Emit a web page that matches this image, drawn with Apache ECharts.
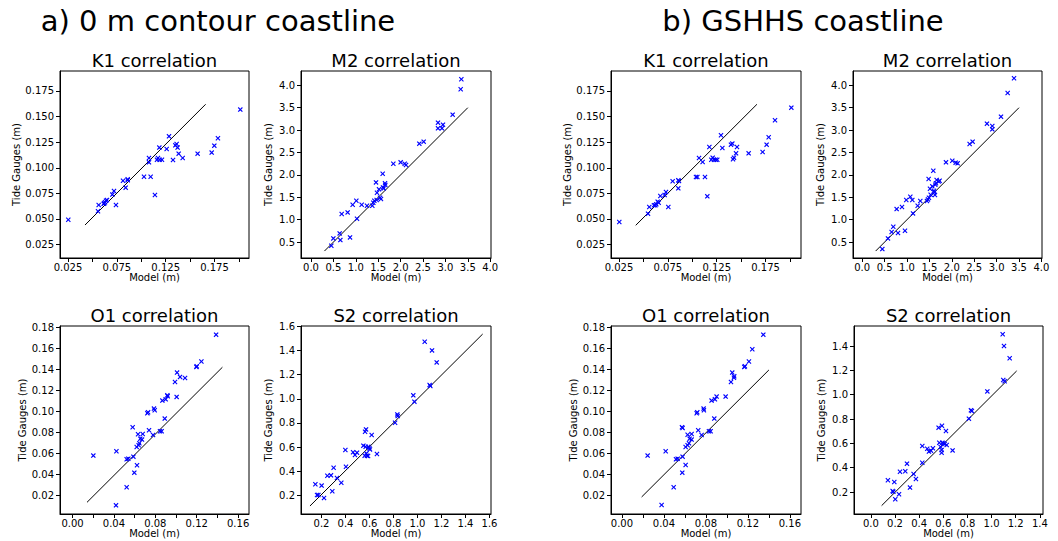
<!DOCTYPE html>
<html><head><meta charset="utf-8">
<script src="https://cdn.jsdelivr.net/npm/echarts@6/dist/echarts.min.js"></script>
<style>html,body{margin:0;padding:0;background:#fff}#c{width:1058px;height:541px}</style>
</head><body><div id="c"></div>
<script>
// ---------- DATA ----------
const k1aModel = [0.0253,0.0557,0.0564,0.0615,0.0629,0.0639,0.0649,0.0622,0.0704,0.0721,0.0741,0.0813,0.084,0.0861,0.0861,0.1028,0.1079,0.1079,0.1096,0.114,0.1161,0.1171,0.1185,0.1188,0.1212,0.126,0.1284,0.1325,0.1349,0.1362,0.1372,0.1383,0.1424,0.1577,0.1721,0.1748,0.1785,0.2014];
const k1aGauge = [0.0493,0.0575,0.0637,0.0648,0.0663,0.0679,0.0686,0.0653,0.0738,0.0773,0.0637,0.0874,0.0806,0.0878,0.0887,0.0913,0.1096,0.1053,0.0913,0.0734,0.1079,0.1096,0.1197,0.1079,0.1079,0.1184,0.1307,0.1076,0.1219,0.1232,0.1197,0.1138,0.1096,0.1138,0.1148,0.1216,0.1288,0.1568];
const k1aLineX = [0.0424,0.1659], k1aLineY = [0.0441,0.162];

const m2aModel = [0.454,0.499,0.64,0.655,0.685,0.818,0.871,0.93,1.012,1.027,1.131,1.25,1.369,1.391,1.414,1.451,1.473,1.466,1.518,1.562,1.54,1.6,1.607,1.622,1.652,1.659,1.838,2.001,2.091,2.121,2.418,2.515,2.835,2.835,2.924,2.946,3.162,3.341,3.356];
const m2aGauge = [0.418,0.582,0.694,0.545,1.126,1.163,0.605,1.334,1.424,1.022,1.334,1.312,1.312,1.379,1.424,1.833,1.602,1.439,1.677,1.461,1.49,2.027,1.721,1.699,1.811,1.774,2.25,2.28,2.25,2.22,2.697,2.742,3.166,3.039,3.039,3.121,3.345,3.911,4.134];
const m2aLineX = [0.3,3.5], m2aLineY = [0.3,3.5];

const o1aModel = [0.0201,0.0424,0.042,0.0523,0.0523,0.0539,0.0581,0.0588,0.0597,0.0623,0.062,0.0633,0.0639,0.0646,0.0655,0.0671,0.0678,0.0723,0.073,0.0739,0.0778,0.0787,0.0794,0.0845,0.0861,0.0868,0.0891,0.09,0.0916,0.0919,0.099,0.1006,0.101,0.1039,0.1087,0.1197,0.12,0.1245,0.1387];
const o1aGauge = [0.058,0.0621,0.0107,0.0279,0.0545,0.0551,0.0849,0.057,0.0418,0.0488,0.0662,0.0783,0.0678,0.0697,0.0741,0.0732,0.0786,0.0982,0.0992,0.0821,0.0776,0.1027,0.1011,0.0811,0.0811,0.1103,0.0932,0.1115,0.1153,0.1144,0.128,0.1138,0.1369,0.1328,0.1318,0.1423,0.1429,0.1474,0.173];
const o1aLineX = [0.014,0.1448], o1aLineY = [0.0136,0.142];

const s2aModel = [0.149,0.163,0.174,0.201,0.221,0.249,0.279,0.29,0.301,0.329,0.365,0.399,0.404,0.463,0.479,0.496,0.549,0.56,0.563,0.571,0.568,0.574,0.579,0.588,0.59,0.599,0.604,0.618,0.662,0.813,0.832,0.835,0.965,0.974,1.101,1.107,1.06,1.121,1.16];
const s2aGauge = [0.294,0.206,0.206,0.283,0.181,0.365,0.368,0.236,0.431,0.346,0.307,0.577,0.439,0.558,0.536,0.555,0.613,0.53,0.728,0.747,0.604,0.549,0.53,0.527,0.604,0.591,0.582,0.701,0.544,0.802,0.871,0.857,1.028,0.976,1.113,1.105,1.471,1.399,1.3];
const s2aLineX = [0.104,1.543], s2aLineY = [0.115,1.534];

const k1bModel = [0.0253,0.0547,0.056,0.0608,0.0622,0.0632,0.0646,0.0656,0.0673,0.0717,0.0731,0.0755,0.0799,0.0857,0.0857,0.0864,0.1038,0.1052,0.1069,0.1106,0.113,0.1154,0.1175,0.1195,0.1209,0.1222,0.124,0.1256,0.1294,0.1308,0.1396,0.141,0.1417,0.1427,0.1448,0.1458,0.1577,0.172,0.1761,0.1782,0.1847,0.2014];
const k1bGauge = [0.0471,0.0552,0.0617,0.0633,0.0633,0.0643,0.0669,0.0659,0.0725,0.0734,0.0764,0.0617,0.0868,0.0799,0.0878,0.0871,0.091,0.091,0.1096,0.1057,0.091,0.0721,0.1203,0.1079,0.1099,0.1079,0.1079,0.1079,0.1317,0.1193,0.1226,0.1236,0.1083,0.1099,0.1141,0.1203,0.1141,0.1154,0.1226,0.1298,0.1464,0.1587];
const k1bLineX = [0.0421,0.1662], k1bLineY = [0.0438,0.162];

const m2bModel = [0.449,0.575,0.657,0.694,0.769,0.799,0.888,0.955,0.984,1.074,1.119,1.134,1.238,1.297,1.446,1.468,1.483,1.49,1.513,1.528,1.565,1.587,1.602,1.609,1.624,1.632,1.647,1.662,1.706,1.728,1.87,2.011,2.086,2.13,2.398,2.465,2.785,2.904,2.904,3.098,3.247,3.389];
const m2bGauge = [0.344,0.582,0.724,0.843,1.237,0.702,1.282,0.754,1.439,1.513,1.439,1.141,1.312,1.416,1.416,1.453,1.908,1.49,1.692,1.558,1.744,2.094,1.647,1.61,1.55,1.781,1.811,1.885,1.855,1.87,2.28,2.317,2.273,2.258,2.69,2.742,3.144,3.092,3.017,3.3,3.829,4.156];
const m2bLineX = [0.3,3.5], m2bLineY = [0.3,3.5];

const o1bModel = [0.0245,0.0417,0.0378,0.0493,0.0515,0.0531,0.0572,0.0578,0.0578,0.0575,0.0607,0.0607,0.0626,0.0626,0.0639,0.0645,0.0664,0.0664,0.0712,0.0718,0.0727,0.0759,0.0778,0.0781,0.0829,0.0845,0.0854,0.088,0.0886,0.0902,0.0988,0.1039,0.1051,0.1067,0.107,0.1166,0.1172,0.121,0.1242,0.1347];
const o1bGauge = [0.058,0.0621,0.0111,0.0279,0.0545,0.0551,0.0849,0.0843,0.057,0.0418,0.0491,0.0662,0.0779,0.0678,0.0697,0.0741,0.0732,0.0786,0.0982,0.0992,0.0821,0.0776,0.1027,0.1011,0.0811,0.0811,0.1103,0.0932,0.1115,0.1141,0.1141,0.128,0.1369,0.1321,0.1334,0.1423,0.1429,0.1474,0.1591,0.173];
const o1bLineX = [0.0188,0.14], o1bLineY = [0.0187,0.1394];

const s2bModel = [0.141,0.186,0.18,0.194,0.202,0.233,0.241,0.285,0.299,0.324,0.354,0.373,0.426,0.426,0.467,0.481,0.498,0.514,0.561,0.567,0.578,0.589,0.586,0.586,0.592,0.6,0.611,0.622,0.628,0.677,0.812,0.829,0.837,0.965,1.092,1.103,1.15,1.097,1.108];
const s2bGauge = [0.296,0.203,0.208,0.282,0.14,0.181,0.367,0.37,0.433,0.236,0.348,0.307,0.441,0.578,0.556,0.532,0.54,0.559,0.729,0.605,0.57,0.745,0.523,0.545,0.605,0.6,0.595,0.701,0.586,0.542,0.803,0.871,0.866,1.027,1.496,1.4,1.299,1.121,1.11];
const s2bLineX = [0.089,1.208], s2bLineY = [0.088,1.195];

// tick values / labels
const k1XTicks = [0.025,0.05,0.075,0.1,0.125,0.15,0.175,0.2];
const k1XLabels = [0.025,0.075,0.125,0.175];
const k1YTicks = [0.025,0.05,0.075,0.1,0.125,0.15,0.175];
const m2Ticks = [0,0.5,1,1.5,2,2.5,3,3.5,4];
const m2YTicks = [0.5,1,1.5,2,2.5,3,3.5,4];
const o1XTicks = [0,0.02,0.04,0.06,0.08,0.1,0.12,0.14,0.16];
const o1XLabels = [0,0.04,0.08,0.12,0.16];
const o1YTicks = [0.02,0.04,0.06,0.08,0.1,0.12,0.14,0.16,0.18];
const s2aTicks = [0.2,0.4,0.6,0.8,1.0,1.2,1.4,1.6];
const s2bXTicks = [0,0.2,0.4,0.6,0.8,1.0,1.2,1.4];
const s2bYTicks = [0.2,0.4,0.6,0.8,1.0,1.2,1.4];

const mainTitles = ['a) 0 m contour coastline', 'b) GSHHS coastline'];
const subTitles = ['K1 correlation','M2 correlation','O1 correlation','S2 correlation'];

// ---------- LAYOUT ----------
const FONT = '"DejaVu Sans", sans-serif';
const panels = [
  {t:0, box:[60,71,189,187],  model:k1aModel, gauge:k1aGauge, lx:k1aLineX, ly:k1aLineY, x:[0.0168,0.2103], y:[0.0119,0.1945], xt:k1XTicks, xl:k1XLabels, yt:k1YTicks, yl:k1YTicks, xd:3, yd:3, yGap:36, xGap:14},
  {t:1, box:[301,71,190,187], model:m2aModel, gauge:m2aGauge, lx:m2aLineX, ly:m2aLineY, x:[-0.2232,4.0179], y:[0.145,4.319], xt:m2Ticks, xl:m2Ticks, yt:m2YTicks, yl:m2YTicks, xd:1, yd:1, yGap:28, xGap:14},
  {t:2, box:[60,326,189,188], model:o1aModel, gauge:o1aGauge, lx:o1aLineX, ly:o1aLineY, x:[-0.0121,0.1705], y:[0.0025,0.1812], xt:o1XTicks, xl:o1XLabels, yt:o1YTicks, yl:o1YTicks, xd:2, yd:2, yGap:31, xGap:12},
  {t:3, box:[301,326,190,188], model:s2aModel, gauge:s2aGauge, lx:s2aLineX, ly:s2aLineY, x:[0.0292,1.6125], y:[0.0488,1.6005], xt:s2aTicks, xl:s2aTicks, yt:s2aTicks, yl:s2aTicks, xd:1, yd:1, yGap:28, xGap:12},
  {t:0, box:[611,71,190,187], model:k1bModel, gauge:k1bGauge, lx:k1bLineX, ly:k1bLineY, x:[0.0168,0.2113], y:[0.0119,0.1945], xt:k1XTicks, xl:k1XLabels, yt:k1YTicks, yl:k1YTicks, xd:3, yd:3, yGap:36, xGap:14},
  {t:1, box:[853,71,189,187], model:m2bModel, gauge:m2bGauge, lx:m2bLineX, ly:m2bLineY, x:[-0.2054,4.0134], y:[0.145,4.319], xt:m2Ticks, xl:m2Ticks, yt:m2YTicks, yl:m2YTicks, xd:1, yd:1, yGap:28, xGap:14},
  {t:2, box:[611,326,190,188], model:o1bModel, gauge:o1bGauge, lx:o1bLineX, ly:o1bLineY, x:[-0.0104,0.1706], y:[0.0025,0.1812], xt:o1XTicks, xl:o1XLabels, yt:o1YTicks, yl:o1YTicks, xd:2, yd:2, yGap:31, xGap:12},
  {t:3, box:[854,326,189,188], model:s2bModel, gauge:s2bGauge, lx:s2bLineX, ly:s2bLineY, x:[-0.14,1.4262], y:[0.0192,1.5644], xt:s2bXTicks, xl:s2bXTicks, yt:s2bYTicks, yl:s2bYTicks, xd:1, yd:1, yGap:28, xGap:12}
];

const CROSS = 'path://M0,1.6L1.6,0L5,3.4L8.4,0L10,1.6L6.6,5L10,8.4L8.4,10L5,6.6L1.6,10L0,8.4L3.4,5Z';
const grid = [], xAxis = [], yAxis = [], series = [], graphic = [];
const txt = {fontFamily: FONT, fontSize: 10, color: '#000'};

panels.forEach((p, i) => {
  const [l, t, w, h] = p.box;
  grid.push({left: l, top: t, width: w, height: h, show: true, borderColor: '#000', borderWidth: 1, backgroundColor: 'transparent', containLabel: false});
  xAxis.push({
    gridIndex: i, type: 'value', min: p.x[0], max: p.x[1],
    axisLine: {show: true, onZero: false, lineStyle: {color: '#000', width: 1}},
    axisTick: {show: true, inside: false, length: 4, customValues: p.xt, lineStyle: {color: '#000', width: 1}},
    axisLabel: Object.assign({customValues: p.xl, margin: 4, formatter: v => Number(v).toFixed(p.xd)}, txt),
    splitLine: {show: false},
    name: 'Model (m)', nameLocation: 'middle', nameGap: p.xGap, nameTextStyle: txt
  });
  yAxis.push({
    gridIndex: i, type: 'value', min: p.y[0], max: p.y[1],
    axisLine: {show: true, onZero: false, lineStyle: {color: '#000', width: 1}},
    axisTick: {show: true, inside: false, length: 4, customValues: p.yt, lineStyle: {color: '#000', width: 1}},
    axisLabel: Object.assign({customValues: p.yl, margin: 6, formatter: v => Number(v).toFixed(p.yd)}, txt),
    splitLine: {show: false},
    name: 'Tide Gauges (m)', nameLocation: 'middle', nameRotate: 90, nameGap: p.yGap, nameTextStyle: txt
  });
  series.push({
    type: 'line', xAxisIndex: i, yAxisIndex: i, silent: true, showSymbol: false, symbol: 'none',
    data: p.lx.map((v, k) => [v, p.ly[k]]),
    lineStyle: {color: '#000', width: 1}, z: 2
  });
  series.push({
    type: 'scatter', xAxisIndex: i, yAxisIndex: i,
    symbol: CROSS, symbolSize: 5,
    data: p.model.map((v, k) => [v, p.gauge[k]]),
    itemStyle: {color: '#0000ff', opacity: 1}, z: 3
  });
  graphic.push({
    type: 'text', x: l + w / 2, y: t - 11,
    style: {text: subTitles[p.t], font: '18px ' + FONT, fill: '#000', textAlign: 'center', textVerticalAlign: 'middle'}
  });
});

graphic.push({type: 'text', x: 218, y: 21, style: {text: mainTitles[0], font: '29px ' + FONT, fill: '#000', textAlign: 'center', textVerticalAlign: 'middle'}});
graphic.push({type: 'text', x: 803, y: 21, style: {text: mainTitles[1], font: '29px ' + FONT, fill: '#000', textAlign: 'center', textVerticalAlign: 'middle'}});

const chart = echarts.init(document.getElementById('c'), null, {renderer: 'svg'});
chart.setOption({
  animation: false,
  backgroundColor: '#fff',
  textStyle: {fontFamily: FONT},
  grid, xAxis, yAxis, series, graphic
});
</script>
</body></html>
